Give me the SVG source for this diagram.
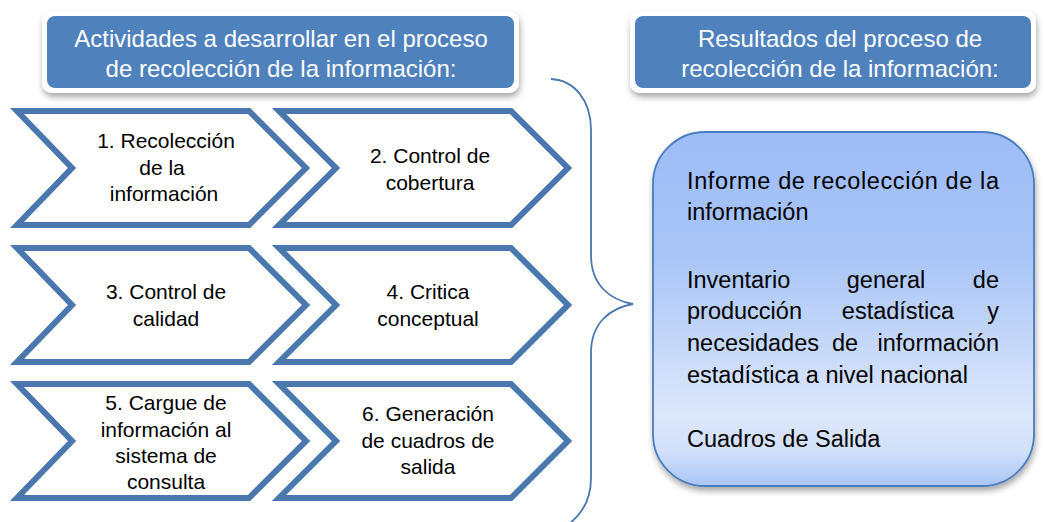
<svg xmlns="http://www.w3.org/2000/svg" width="1044" height="522" viewBox="0 0 1044 522">
<style>
.chev{fill:#ffffff;stroke:#4a77ae;stroke-width:6;stroke-linejoin:miter}
.ct{font-family:"Liberation Sans",Arial,sans-serif;font-size:21px;fill:#000;text-anchor:middle}
.tt{font-family:"Liberation Sans",Arial,sans-serif;font-size:24px;fill:#fff;text-anchor:middle}
.rt{font-family:"Liberation Sans",Arial,sans-serif;font-size:23.5px;fill:#000}
.tbox{fill:#4f81bd}
.tframe{fill:#fff}
</style>
<defs>
<filter id="sh" x="-10%" y="-20%" width="120%" height="150%">
<feGaussianBlur in="SourceAlpha" stdDeviation="3"/>
<feOffset dx="1" dy="4" result="b"/>
<feComponentTransfer><feFuncA type="linear" slope="0.35"/></feComponentTransfer>
<feMerge><feMergeNode/><feMergeNode in="SourceGraphic"/></feMerge>
</filter>
<linearGradient id="rg" x1="0" y1="0" x2="0" y2="1">
<stop offset="0" stop-color="#9dbcf6"/>
<stop offset="0.35" stop-color="#a9c5f7"/>
<stop offset="0.8" stop-color="#dde7fb"/>
<stop offset="0.9" stop-color="#d2e0fa"/>
<stop offset="1" stop-color="#aac6f5"/>
</linearGradient>
</defs>
<rect width="1044" height="522" fill="#fff"/>

<g id="title-left">
<rect class="tframe" x="42" y="11" width="477" height="82" rx="10" filter="url(#sh)"/>
<rect class="tbox" x="47" y="16" width="467" height="72" rx="8"/>
<text class="tt" x="281" y="47">Actividades a desarrollar en el proceso</text>
<text class="tt" x="281" y="77">de recolección de la información:</text>
</g>

<g id="title-right">
<rect class="tframe" x="630" y="11" width="406" height="82" rx="10" filter="url(#sh)"/>
<rect class="tbox" x="635" y="16" width="396" height="72" rx="8"/>
<text class="tt" x="840" y="47">Resultados del  proceso de</text>
<text class="tt" x="840" y="77">recolección de la información:</text>
</g>

<g id="step1">
<path class="chev" d="M17,111 H249 L306,168 L249,225 H17 L72,168 Z"/>
<text class="ct" x="166" y="148">1. Recolección</text>
<text class="ct" x="162" y="175">de la</text>
<text class="ct" x="164" y="201">información</text>
</g>
<g id="step2">
<path class="chev" d="M279,111 H511 L568,168 L511,225 H279 L336,168 Z"/>
<text class="ct" x="430" y="163">2. Control de</text>
<text class="ct" x="430" y="190">cobertura</text>
</g>
<g id="step3">
<path class="chev" d="M17,248 H249 L306,305 L249,362 H17 L72,305 Z"/>
<text class="ct" x="166" y="299">3. Control de</text>
<text class="ct" x="166" y="326">calidad</text>
</g>
<g id="step4">
<path class="chev" d="M279,248 H511 L568,305 L511,362 H279 L336,305 Z"/>
<text class="ct" x="428" y="299">4. Critica</text>
<text class="ct" x="428" y="326">conceptual</text>
</g>
<g id="step5">
<path class="chev" d="M17,384 H249 L306,441 L249,498 H17 L72,441 Z"/>
<text class="ct" x="166" y="410">5. Cargue de</text>
<text class="ct" x="166" y="437">información al</text>
<text class="ct" x="166" y="463">sistema de</text>
<text class="ct" x="166" y="489">consulta</text>
</g>
<g id="step6">
<path class="chev" d="M279,384 H511 L568,441 L511,498 H279 L336,441 Z"/>
<text class="ct" x="428" y="421">6. Generación</text>
<text class="ct" x="428" y="448">de cuadros de</text>
<text class="ct" x="428" y="474">salida</text>
</g>

<g id="connectors">
<path d="M551,79 C574,80 591,100 591,130 V255 C591,285 610,300 633,304 C610,308 591,323 591,353 V478 C591,500 582,514 569,524" fill="none" stroke="#4a77ae" stroke-width="1.8"/>
</g>

<g id="results">
<rect x="653" y="132" width="381" height="354" rx="52" fill="url(#rg)" stroke="#4a7dbf" stroke-width="1.8" filter="url(#sh)"/>
<text class="rt" x="687" y="189" textLength="312" lengthAdjust="spacing">Informe de recolección de la</text>
<text class="rt" x="687" y="220">información</text>
<text class="rt" x="687" y="288">Inventario</text>
<text class="rt" x="886" y="288" text-anchor="middle">general</text>
<text class="rt" x="999" y="288" text-anchor="end">de</text>
<text class="rt" x="687" y="319">producción</text>
<text class="rt" x="898" y="319" text-anchor="middle">estadística</text>
<text class="rt" x="999" y="319" text-anchor="end">y</text>
<text class="rt" x="687" y="351">necesidades</text>
<text class="rt" x="845" y="351" text-anchor="middle">de</text>
<text class="rt" x="999" y="351" text-anchor="end">información</text>
<text class="rt" x="687" y="383">estadística a nivel nacional</text>
<text class="rt" x="687" y="447">Cuadros de Salida</text>
</g>
</svg>
